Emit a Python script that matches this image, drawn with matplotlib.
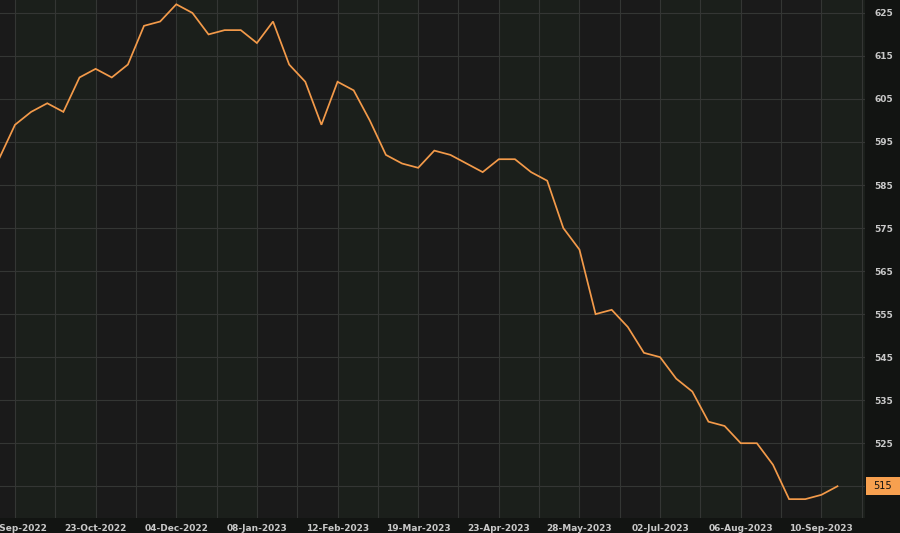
import matplotlib
matplotlib.use("Agg")
import matplotlib.pyplot as plt
import matplotlib.transforms as mtransforms
from matplotlib.patches import Rectangle
import numpy as np

# weekly values (first point is one week before the first labelled week)
values = [591, 599, 602, 604, 602, 610, 612, 610, 613, 622, 623, 627, 625,
          620, 621, 621, 618, 623, 613, 609, 599, 609, 607, 600, 592, 590,
          589, 593, 592, 590, 588, 591, 591, 588, 586, 575, 570, 555, 556,
          552, 546, 545, 540, 537, 530, 529, 525, 525, 520, 512, 512, 513, 515]
tick_labels = ["18-Sep-2022", "23-Oct-2022", "04-Dec-2022", "08-Jan-2023",
               "12-Feb-2023", "19-Mar-2023", "23-Apr-2023", "28-May-2023",
               "02-Jul-2023", "06-Aug-2023", "10-Sep-2023"]
y_ticks = [515, 525, 535, 545, 555, 565, 575, 585, 595, 605, 615, 625]
last_value = 515

x = np.arange(-1, len(values) - 1)
tick_pos = np.arange(0, 5 * len(tick_labels), 5)

fig = plt.figure(figsize=(9, 5.33), dpi=100)
fig.patch.set_facecolor("#121412")
ax = fig.add_axes([0.0, 0.028, 0.961, 0.972])
ax.set_facecolor("#1a1a1a")

xmin, xmax = -0.93, 52.7
# alternating background bands between labelled ticks
for i, p in enumerate(tick_pos):
    if i % 2 == 0:
        ax.axvspan(p, p + 5, color="#1b1f1b", lw=0, zorder=0)

ax.plot(x, values, color="#F39A4A", lw=1.25, zorder=3, solid_joinstyle="miter")

ax.set_xlim(xmin, xmax)
ax.set_ylim(507.6, 628.0)

ax.set_xticks(tick_pos)
ax.set_xticklabels(tick_labels)
ax.set_xticks(np.arange(2.5, 55, 5), minor=True)
ax.set_yticks(y_ticks)
ax.set_yticklabels(["" if v == last_value else str(v) for v in y_ticks])
ax.yaxis.tick_right()

ax.grid(True, which="both", color="#343634", lw=0.8, zorder=1)
ax.tick_params(axis="x", which="both", length=0, pad=4, labelsize=6.5,
               labelcolor="#c9c9c9")
ax.tick_params(axis="y", length=0, pad=7, labelsize=6.5, labelcolor="#c9c9c9")
for lab in ax.get_xticklabels() + ax.get_yticklabels():
    lab.set_fontweight("bold")
for s in ax.spines.values():
    s.set_visible(False)

# last-value badge on the right axis
trans = mtransforms.blended_transform_factory(ax.transAxes, ax.transData)
ax.add_patch(Rectangle((1.001, last_value - 2.1), 0.045, 4.2, transform=trans,
                       facecolor="#F7A04F", edgecolor="none", clip_on=False, zorder=5))
ax.text(1.0205, last_value, str(last_value), transform=trans, ha="center",
        va="center", fontsize=7, color="#111111", clip_on=False, zorder=6)

fig.savefig("out.png", dpi=100, facecolor=fig.get_facecolor())
